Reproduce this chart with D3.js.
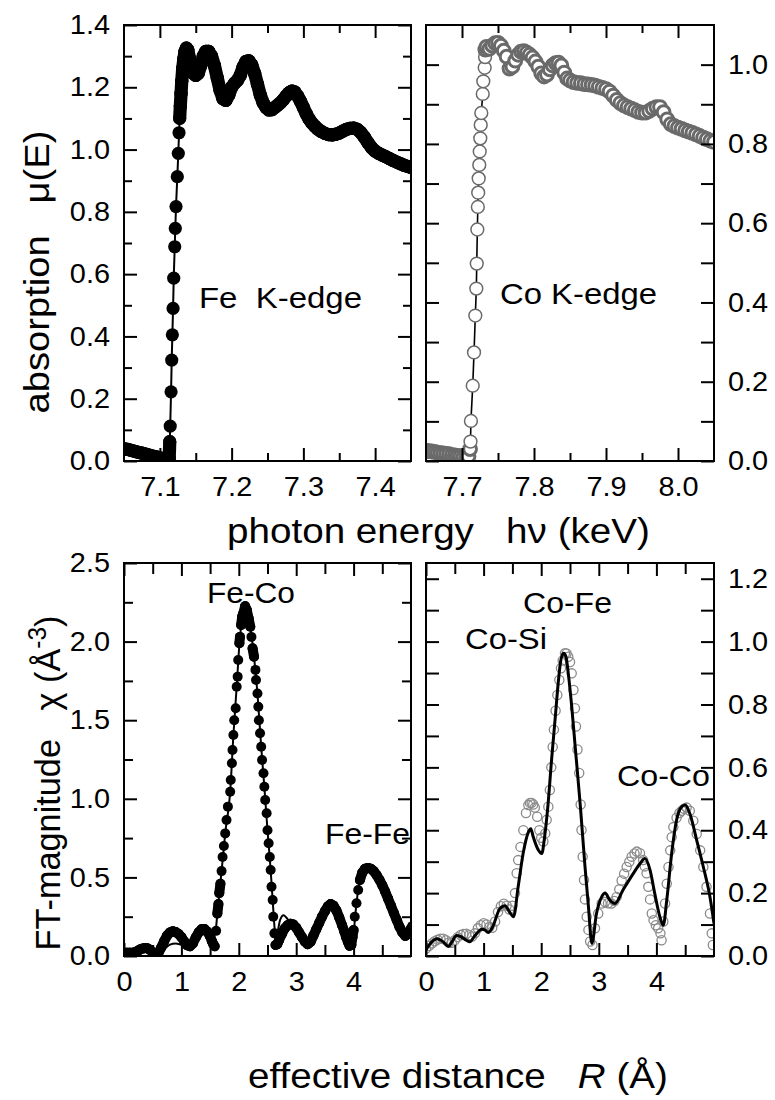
<!DOCTYPE html>
<html lang="en">
<head>
<meta charset="UTF-8">
<title>Fe / Co K-edge XAFS</title>
<script src="https://cdn.jsdelivr.net/npm/d3@7"></script>
<style>
  body { margin: 0; background: #fff; }
  text { font-family: "Liberation Sans", Arial, sans-serif; white-space: pre; fill: #000; }
</style>
</head>
<body>
<script>
// ---------- data ----------
// Fe K-edge XANES (keV, mu)
const feE = [7.050,7.055,7.060,7.065,7.070,7.075,7.080,7.085,7.090,7.095,7.100,7.105,7.110,
  7.1130,7.1134,7.1138,7.1144,7.1156,7.1165,7.1174,7.1184,7.1193,7.1207,7.1215,7.1225,7.1243,7.1257,7.1267,7.1276,
  7.1285,7.1295,7.1305,7.1318,7.1333,7.1350,7.1370,7.1390,7.1410,7.1435,7.1465,7.1500,7.1535,7.1570,7.1605,7.1640,
  7.1680,7.1720,7.1760,7.1800,7.1840,7.1880,7.1920,7.1960,7.2000,7.2040,7.2080,7.2120,7.2160,7.2200,7.2240,7.2280,
  7.2320,7.2360,7.2400,7.2440,7.2480,7.2520,7.2560,7.2600,7.2640,7.2680,7.2720,7.2760,7.2800,7.2840,7.2880,7.2920,
  7.2960,7.3000,7.3040,7.3080,7.3120,7.3160,7.3200,7.3250,7.3300,7.3350,7.3400,7.3450,7.3500,7.3550,7.3600,7.3650,
  7.3700,7.3750,7.3800,7.3850,7.3900,7.3950,7.4000,7.4050,7.4100,7.4150,7.4200,7.4250,7.4300,7.4350,7.4400,7.4450,7.4500];
const feMu = [0.040,0.037,0.034,0.031,0.028,0.025,0.022,0.019,0.016,0.013,0.010,0.008,0.006,
  0.010,0.035,0.062,0.112,0.222,0.324,0.405,0.490,0.587,0.688,0.747,0.817,0.913,0.988,1.054,1.100,
  1.140,1.180,1.220,1.260,1.290,1.315,1.326,1.320,1.295,1.265,1.245,1.238,1.245,1.270,1.300,1.315,
  1.315,1.300,1.270,1.230,1.190,1.163,1.158,1.175,1.200,1.213,1.222,1.238,1.265,1.283,1.285,1.272,
  1.245,1.210,1.175,1.150,1.135,1.127,1.128,1.135,1.142,1.150,1.160,1.172,1.182,1.188,1.185,1.172,
  1.155,1.135,1.115,1.098,1.085,1.075,1.066,1.058,1.052,1.048,1.047,1.049,1.053,1.059,1.065,1.068,
  1.069,1.065,1.055,1.040,1.022,1.006,0.995,0.988,0.982,0.977,0.971,0.965,0.960,0.955,0.950,0.946,0.942];

// Co K-edge XANES (keV, mu)
const coE = [7.650,7.654,7.658,7.662,7.666,7.670,7.674,7.678,7.682,7.686,7.690,7.694,7.698,7.702,7.706,7.709,
  7.7112,7.7118,7.7124,7.7149,7.7167,7.7185,7.7199,7.7205,7.7213,7.7220,7.7225,7.7232,7.7240,7.7246,7.7254,7.7260,
  7.7268,7.7288,7.7296,7.7315,7.7320,7.7324,
  7.734,7.738,7.742,7.746,7.750,7.754,7.758,7.762,7.766,7.770,7.774,7.778,7.782,7.786,7.790,7.794,7.798,7.802,
  7.806,7.810,7.814,7.818,7.822,7.826,7.830,7.834,7.838,7.842,7.846,7.850,7.855,7.860,7.865,7.870,7.875,7.880,
  7.885,7.890,7.895,7.900,7.905,7.910,7.915,7.920,7.925,7.930,7.935,7.940,7.945,7.950,7.955,7.960,7.965,7.970,
  7.975,7.980,7.985,7.990,7.995,8.000,8.005,8.010,8.015,8.020,8.025,8.030,8.035,8.040,8.045,8.050];
const coMu = [0.026,0.025,0.024,0.023,0.021,0.020,0.019,0.018,0.017,0.015,0.014,0.013,0.012,0.010,0.009,0.012,
  0.030,0.049,0.101,0.190,0.274,0.367,0.435,0.498,0.584,0.641,0.677,0.713,0.747,0.781,0.814,0.848,
  0.878,0.926,0.958,0.992,1.019,1.038,
  1.045,1.040,1.048,1.054,1.055,1.048,1.035,1.020,0.990,0.995,1.010,1.025,1.033,1.034,1.030,1.025,1.018,1.008,
  0.995,0.978,0.970,0.975,0.988,0.998,1.004,1.005,0.998,0.980,0.965,0.960,0.956,0.954,0.953,0.951,0.950,0.949,
  0.947,0.944,0.941,0.938,0.932,0.922,0.911,0.903,0.897,0.893,0.889,0.885,0.881,0.879,0.879,0.883,0.889,0.893,
  0.893,0.880,0.862,0.850,0.845,0.841,0.838,0.834,0.831,0.828,0.824,0.820,0.816,0.812,0.808,0.805];

// Fe FT magnitude, measured (R in Å, chi)
const feR = [0.00,0.05,0.10,0.15,0.20,0.25,0.30,0.35,0.40,0.45,0.50,0.55,0.60,0.65,0.70,0.75,0.80,0.85,0.90,0.95,
  1.00,1.05,1.10,1.15,1.20,1.25,1.30,1.35,1.40,1.45,1.50,1.53,1.556,1.58,1.605,1.626,1.645,1.66,1.68,1.70,1.717,
  1.74,1.763,1.786,1.81,1.85,1.86,1.88,1.89,1.906,1.92,1.946,1.963,1.98,1.99,2.01,2.02,2.04,2.06,2.08,2.11,2.14,
  2.17,2.20,2.22,2.24,2.265,2.29,2.30,2.325,2.34,2.35,2.37,2.39,2.405,2.43,2.445,2.46,2.485,2.50,2.52,2.54,2.555,
  2.57,2.59,2.60,2.62,2.64,2.67,2.70,2.75,2.80,2.85,2.90,2.95,3.00,3.05,3.10,3.15,3.20,3.25,3.30,3.35,3.40,3.45,
  3.50,3.55,3.60,3.65,3.70,3.75,3.80,3.84,3.87,3.90,3.93,3.96,3.98,4.00,4.02,4.05,4.08,4.11,4.15,4.20,4.25,4.30,
  4.35,4.40,4.45,4.50,4.55,4.60,4.65,4.70,4.75,4.80,4.85,4.90,4.95,5.00];
const feChi = [0.020,0.020,0.020,0.020,0.025,0.035,0.045,0.050,0.050,0.040,0.022,0.012,0.020,0.055,0.095,0.130,0.150,
  0.157,0.152,0.140,0.120,0.092,0.068,0.062,0.080,0.118,0.150,0.170,0.172,0.155,0.125,0.095,0.075,0.062,0.160,0.270,
  0.330,0.400,0.460,0.540,0.630,0.700,0.780,0.865,0.950,1.045,1.120,1.226,1.310,1.406,1.500,1.576,1.713,1.777,1.883,
  1.990,2.030,2.106,2.160,2.180,2.225,2.200,2.148,2.095,2.030,1.957,1.904,1.820,1.756,1.670,1.586,1.500,1.417,1.331,
  1.247,1.162,1.077,0.992,0.908,0.800,0.717,0.630,0.547,0.440,0.356,0.250,0.144,0.070,0.075,0.100,0.140,0.175,0.195,
  0.205,0.200,0.180,0.150,0.120,0.092,0.075,0.090,0.130,0.170,0.210,0.250,0.285,0.315,0.330,0.320,0.290,0.245,0.195,
  0.155,0.120,0.090,0.065,0.070,0.120,0.165,0.250,0.335,0.420,0.483,0.530,0.555,0.560,0.555,0.540,0.515,0.485,0.450,
  0.410,0.365,0.320,0.275,0.230,0.185,0.150,0.128,0.140,0.170];
// Fe FT magnitude, fit
const feFitR = [0.00,0.10,0.20,0.30,0.40,0.50,0.60,0.70,0.80,0.90,1.00,1.10,1.20,1.30,1.40,1.48,1.55,1.60,1.626,1.70,
  1.763,1.85,1.906,1.963,2.02,2.08,2.11,2.14,2.20,2.265,2.325,2.39,2.445,2.50,2.555,2.60,2.63,2.66,2.72,2.78,2.85,
  2.92,3.00,3.10,3.20,3.30,3.40,3.50,3.60,3.70,3.80,3.90,3.95,4.00,4.05,4.11,4.20,4.30,4.40,4.50,4.60,4.70,4.80,
  4.87,4.93,4.98];
const feFitChi = [0.010,0.010,0.015,0.028,0.035,0.020,0.018,0.045,0.072,0.080,0.070,0.058,0.085,0.145,0.170,0.135,
  0.110,0.170,0.270,0.540,0.780,1.045,1.406,1.713,2.030,2.180,2.220,2.200,2.095,1.904,1.670,1.331,1.077,0.800,0.547,
  0.300,0.160,0.140,0.230,0.260,0.235,0.205,0.180,0.120,0.075,0.130,0.210,0.285,0.330,0.290,0.195,0.090,0.070,0.150,
  0.335,0.483,0.555,0.555,0.515,0.450,0.365,0.275,0.185,0.150,0.185,0.215];

// Co FT magnitude, measured
const coR = [0.00,0.05,0.10,0.15,0.20,0.25,0.30,0.35,0.40,0.45,0.50,0.55,0.60,0.65,0.70,0.75,0.80,0.85,0.90,0.95,
  1.00,1.05,1.10,1.15,1.20,1.25,1.30,1.35,1.40,1.45,1.50,1.545,1.574,1.60,1.64,1.69,1.736,1.776,1.805,1.834,1.862,
  1.89,1.93,1.967,2.00,2.037,2.07,2.095,2.124,2.15,2.175,2.20,2.22,2.25,2.28,2.315,2.344,2.373,2.413,2.44,2.47,2.50,
  2.53,2.56,2.586,2.604,2.63,2.66,2.685,2.70,2.72,2.743,2.76,2.79,2.82,2.85,2.89,2.934,2.99,3.05,3.107,3.16,3.22,
  3.27,3.31,3.355,3.397,3.44,3.484,3.53,3.57,3.62,3.66,3.715,3.77,3.80,3.83,3.86,3.89,3.92,3.95,3.99,4.03,4.07,
  4.09,4.12,4.15,4.18,4.21,4.24,4.265,4.294,4.35,4.40,4.44,4.48,4.525,4.58,4.64,4.70,4.76,4.815,4.87,4.93,4.96,4.98];
const coChi = [0.024,0.032,0.040,0.047,0.052,0.055,0.055,0.050,0.043,0.042,0.050,0.060,0.067,0.070,0.071,0.066,
  0.062,0.072,0.088,0.098,0.104,0.100,0.092,0.090,0.110,0.140,0.158,0.166,0.160,0.148,0.160,0.200,0.263,0.305,0.347,
  0.400,0.455,0.480,0.487,0.487,0.482,0.472,0.443,0.400,0.376,0.364,0.390,0.433,0.475,0.528,0.600,0.665,0.720,0.780,
  0.830,0.878,0.915,0.940,0.963,0.962,0.952,0.935,0.899,0.846,0.788,0.730,0.657,0.582,0.482,0.401,0.316,0.242,0.180,
  0.125,0.083,0.046,0.035,0.088,0.135,0.167,0.172,0.168,0.167,0.175,0.188,0.212,0.240,0.262,0.283,0.300,0.316,0.326,
  0.332,0.327,0.305,0.285,0.263,0.220,0.180,0.135,0.114,0.098,0.088,0.072,0.050,0.110,0.167,0.230,0.283,0.336,0.378,
  0.410,0.440,0.455,0.462,0.468,0.472,0.462,0.430,0.388,0.336,0.283,0.220,0.135,0.072,0.035];
// Co FT magnitude, fit
const coFitR = [0.00,0.10,0.185,0.30,0.39,0.45,0.53,0.60,0.70,0.76,0.85,0.97,1.02,1.08,1.15,1.28,1.37,1.45,1.52,
  1.60,1.69,1.78,1.82,1.86,1.95,2.01,2.06,2.12,2.18,2.24,2.30,2.34,2.39,2.43,2.47,2.53,2.59,2.68,2.76,2.82,2.88,
  2.96,3.05,3.11,3.19,3.28,3.42,3.60,3.72,3.80,3.89,3.97,4.06,4.12,4.18,4.265,4.35,4.44,4.50,4.58,4.70,4.815,4.93,5.00];
const coFitChi = [0.020,0.045,0.055,0.045,0.030,0.045,0.065,0.062,0.050,0.045,0.065,0.085,0.083,0.075,0.090,0.150,
  0.160,0.140,0.125,0.220,0.330,0.395,0.405,0.380,0.337,0.326,0.380,0.485,0.624,0.750,0.877,0.940,0.963,0.952,0.899,
  0.793,0.666,0.476,0.285,0.157,0.040,0.135,0.188,0.200,0.178,0.167,0.210,0.263,0.295,0.310,0.273,0.200,0.125,0.098,
  0.178,0.326,0.432,0.475,0.480,0.453,0.368,0.283,0.188,0.103];

// tick values
const feEnergyTicks = [7.1, 7.2, 7.3, 7.4];
const coEnergyTicks = [7.7, 7.8, 7.9, 8.0];
const muTicksFe = [0, 0.2, 0.4, 0.6, 0.8, 1.0, 1.2, 1.4];
const muTicksCo = [0, 0.2, 0.4, 0.6, 0.8, 1.0];
const rTicks = [0, 1, 2, 3, 4];
const chiTicksFe = [0, 0.5, 1.0, 1.5, 2.0, 2.5];
const chiTicksCo = [0, 0.2, 0.4, 0.6, 0.8, 1.0, 1.2];

// ---------- layout ----------
const W = 775, H = 1100;
const colL = [124, 411], colR = [426, 714];
const rowT = [25, 461], rowB = [563, 956];
const TICK_FS = 27, STRETCH = 1.07;

const svg = d3.select("body").append("svg").attr("width", W).attr("height", H);

function axisGroup(gen, pos, values, len, labels, fmt, pad) {
  const g = svg.append("g").attr("transform", pos)
    .call(gen.tickValues(values).tickSize(-len).tickPadding(pad || 0)
      .tickFormat(labels ? fmt : ""));
  g.select(".domain").remove();
  g.selectAll("line").attr("stroke", "#000").attr("stroke-width", 2);
  g.selectAll("text")
    .attr("font-size", TICK_FS)
    .attr("font-family", '"Liberation Sans", Arial, sans-serif')
    .attr("fill", "#000")
    .each(function () {
      const t = d3.select(this);
      const x = +t.attr("x") || 0;
      t.attr("x", x / STRETCH).attr("transform", `scale(${STRETCH},1)`);
    });
  return g;
}

function panel(o) {
  const x = d3.scaleLinear().domain(o.xd).range(o.cols);
  const y = d3.scaleLinear().domain(o.yd).range([o.rows[1], o.rows[0]]);
  const [l, r] = o.cols, [t, b] = o.rows;

  svg.append("clipPath").attr("id", "clip-" + o.id)
    .append("rect").attr("x", l).attr("y", t).attr("width", r - l).attr("height", b - t);
  const plot = svg.append("g").attr("clip-path", `url(#clip-${o.id})`);

  // x axes (bottom labelled, top mirrored)
  axisGroup(d3.axisBottom(x), `translate(0,${b})`, o.xMinor, o.xMinorLen, false);
  axisGroup(d3.axisBottom(x), `translate(0,${b})`, o.xMajor, 13, true, o.xFmt, 16);
  axisGroup(d3.axisTop(x), `translate(0,${t})`, o.xMinor, o.xMinorLen, false);
  axisGroup(d3.axisTop(x), `translate(0,${t})`, o.xMajor, 13, false);
  // y axes
  const leftLab = o.ySide === "left";
  axisGroup(d3.axisLeft(y), `translate(${l},0)`, o.yMinor, o.yMinorLen, false);
  axisGroup(d3.axisLeft(y), `translate(${l},0)`, o.yMajor, 13, leftLab, o.yFmt, 14);
  axisGroup(d3.axisRight(y), `translate(${r},0)`, o.yMinor, o.yMinorLen, false);
  axisGroup(d3.axisRight(y), `translate(${r},0)`, o.yMajor, 13, !leftLab, o.yFmt, 14);

  o.draw(plot, x, y);

  svg.append("rect").attr("x", l).attr("y", t).attr("width", r - l).attr("height", b - t)
    .attr("fill", "none").attr("stroke", "#000").attr("stroke-width", 2);
}

const zip = (a, b) => a.map((v, i) => [v, b[i]]);
const f1 = d3.format(".1f"), f0 = d3.format("d");

// filled markers that sit closer than their diameter merge into one solid band
function filledMarkers(g, pts, x, y, r) {
  const segs = d3.pairs(pts).filter(([a, b]) =>
    Math.hypot(x(a[0]) - x(b[0]), y(a[1]) - y(b[1])) < 2 * r);
  g.selectAll("line.band").data(segs).join("line").attr("class", "band")
    .attr("x1", d => x(d[0][0])).attr("y1", d => y(d[0][1]))
    .attr("x2", d => x(d[1][0])).attr("y2", d => y(d[1][1]))
    .attr("stroke", "#000").attr("stroke-width", 2 * r).attr("stroke-linecap", "round");
  g.selectAll("circle").data(pts).join("circle")
    .attr("cx", d => x(d[0])).attr("cy", d => y(d[1])).attr("r", r).attr("fill", "#000");
}

// (a) Fe K-edge
panel({
  id: "a", cols: colL, rows: rowT, xd: [7.05, 7.45], yd: [0, 1.4],
  xMajor: feEnergyTicks, xMinor: [7.15, 7.25, 7.35], xMinorLen: 8, xFmt: f1,
  yMajor: muTicksFe, yMinor: [0.1, 0.3, 0.5, 0.7, 0.9, 1.1, 1.3], yMinorLen: 8, yFmt: f1, ySide: "left",
  draw(g, x, y) {
    const pts = zip(feE, feMu);
    g.append("path").datum(pts).attr("d", d3.line().x(d => x(d[0])).y(d => y(d[1])))
      .attr("fill", "none").attr("stroke", "#000").attr("stroke-width", 2);
    filledMarkers(g, pts, x, y, 6.6);
  }
});

// (b) Co K-edge
panel({
  id: "b", cols: colR, rows: rowT, xd: [7.65, 8.05], yd: [0, 1.1],
  xMajor: coEnergyTicks, xMinor: [7.75, 7.85, 7.95], xMinorLen: 8, xFmt: f1,
  yMajor: muTicksCo, yMinor: [0.1, 0.3, 0.5, 0.7, 0.9], yMinorLen: 13, yFmt: f1, ySide: "right",
  draw(g, x, y) {
    const pts = zip(coE, coMu);
    g.append("path").datum(pts)
      .attr("d", d3.line().x(d => x(d[0])).y(d => y(d[1])))
      .attr("fill", "none").attr("stroke", "#000").attr("stroke-width", 1.6);
    // open markers; where they pile up densely the outlines look heavier
    g.selectAll("circle").data(pts).join("circle")
      .attr("cx", d => x(d[0])).attr("cy", d => y(d[1])).attr("r", 6.4)
      .attr("fill", "#fff").attr("stroke", "#6a6a6a")
      .attr("stroke-width", d => (d[1] > 0.03 && d[1] < 1.03 && d[0] < 7.733) ? 1.5 : 3);
  }
});

// (c) Fe FT
panel({
  id: "c", cols: colL, rows: rowB, xd: [0, 5], yd: [0, 2.5],
  xMajor: rTicks, xMinor: [0.5, 1.5, 2.5, 3.5, 4.5], xMinorLen: 11, xFmt: f0,
  yMajor: chiTicksFe, yMinor: [0.25, 0.75, 1.25, 1.75, 2.25], yMinorLen: 9, yFmt: f1, ySide: "left",
  draw(g, x, y) {
    filledMarkers(g, zip(feR, feChi), x, y, 5);
    g.append("path").datum(zip(feFitR, feFitChi))
      .attr("d", d3.line().curve(d3.curveMonotoneX).x(d => x(d[0])).y(d => y(d[1])))
      .attr("fill", "none").attr("stroke", "#000").attr("stroke-width", 2);
  }
});

// (d) Co FT
panel({
  id: "d", cols: colR, rows: rowB, xd: [0, 5], yd: [0, 1.25],
  xMajor: rTicks, xMinor: [0.5, 1.5, 2.5, 3.5, 4.5], xMinorLen: 11, xFmt: f0,
  yMajor: chiTicksCo, yMinor: [0.1, 0.3, 0.5, 0.7, 0.9, 1.1], yMinorLen: 13, yFmt: f1, ySide: "right",
  draw(g, x, y) {
    g.selectAll("circle").data(zip(coR, coChi)).join("circle")
      .attr("cx", d => x(d[0])).attr("cy", d => y(d[1])).attr("r", 4.6)
      .attr("fill", "none").attr("stroke", "#8a8a8a").attr("stroke-width", 1.3);
    g.append("path").datum(zip(coFitR, coFitChi))
      .attr("d", d3.line().curve(d3.curveMonotoneX).x(d => x(d[0])).y(d => y(d[1])))
      .attr("fill", "none").attr("stroke", "#000").attr("stroke-width", 3);
  }
});

// ---------- text ----------
// width-fitted label: stretches the glyphs along the baseline to the given width
function label(x, y, width, size, anchor, rot, build) {
  const t = svg.append("text").attr("font-size", size).attr("text-anchor", anchor)
    .attr("xml:space", "preserve");
  build(t);
  const k = width / t.node().getComputedTextLength();
  t.attr("transform", `translate(${x},${y}) rotate(${rot}) scale(${k},1)`);
  return t;
}
const plain = s => t => t.text(s);

label(199, 308, 163, 30, "start", 0, plain("Fe  K-edge"));
label(500, 304, 157, 30, "start", 0, plain("Co K-edge"));
label(207, 603, 88, 29, "start", 0, plain("Fe-Co"));
label(325, 844, 85, 29, "start", 0, plain("Fe-Fe"));
label(523, 613, 89, 29, "start", 0, plain("Co-Fe"));
label(465, 649, 82, 29, "start", 0, plain("Co-Si"));
label(617, 786, 93, 29, "start", 0, plain("Co-Co"));

label(227, 543, 423, 36, "start", 0, plain("photon energy   h\u03BD (keV)"));
label(248, 1088, 420, 36, "start", 0, t => {
  t.append("tspan").text("effective distance   ");
  t.append("tspan").attr("font-style", "italic").text("R");
  t.append("tspan").text(" (\u00C5)");
});
label(49, 272, 283, 35, "middle", -90, plain("absorption   \u03BC(E)"));
label(60, 783, 335, 35, "middle", -90, t => {
  t.append("tspan").text("FT-magnitude   \u03C7 (\u00C5");
  t.append("tspan").attr("font-size", 25).attr("dy", -14).text("-3");
  t.append("tspan").attr("dy", 14).text(")");
});
</script>
</body>
</html>
